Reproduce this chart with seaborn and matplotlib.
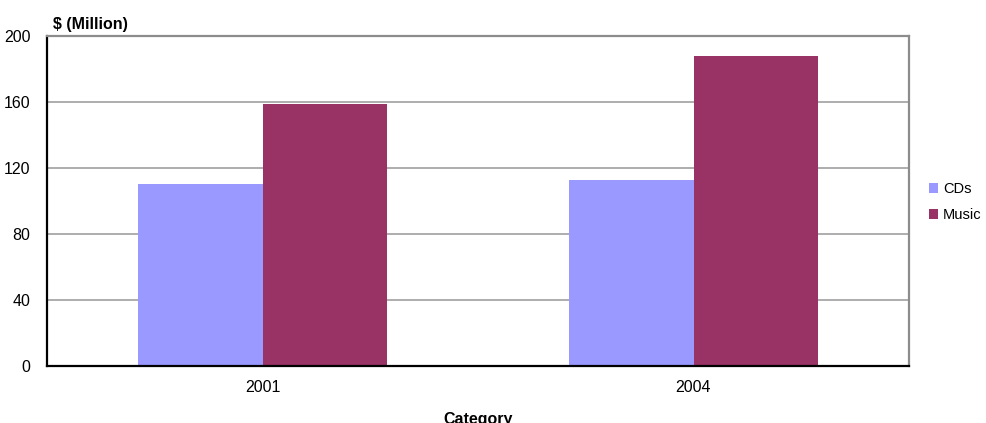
import matplotlib
matplotlib.use("Agg")
import matplotlib.pyplot as plt
import seaborn as sns
import pandas as pd
from matplotlib.patches import Patch

# Revenue by year, $ millions
years = ["2001", "2004"]
series = ["CDs", "Music"]
cds = [110, 113]
music = [159, 188]
colors = {"CDs": "#9999FF", "Music": "#993366"}

df = pd.DataFrame({
    "Year": years * 2,
    "Series": ["CDs"] * len(years) + ["Music"] * len(years),
    "Value": cds + music,
})

sns.set_theme(style="white")
plt.rcParams["font.family"] = ["Liberation Sans", "DejaVu Sans"]
plt.rcParams["text.color"] = "black"
plt.rcParams["axes.labelcolor"] = "black"

fig = plt.figure(figsize=(9.86, 4.23), dpi=100)
ax = fig.add_axes([47 / 986, (423 - 366) / 423, (909 - 47) / 986, (366 - 36) / 423])

sns.barplot(data=df, x="Year", y="Value", hue="Series", order=years,
            hue_order=series, palette=colors, width=0.58, saturation=1,
            edgecolor="none", linewidth=0, legend=False, ax=ax)

ax.set_xlim(-0.5, 1.5)
ax.set_ylim(0, 200)
ax.set_yticks([0, 40, 80, 120, 160, 200])
ax.yaxis.grid(True, color="#a0a0a0", linewidth=1.2)
ax.set_axisbelow(True)
ax.tick_params(axis="both", length=0, labelsize=11.5, colors="black")
ax.tick_params(axis="y", pad=12)
ax.tick_params(axis="x", pad=10)
ax.set_xlabel("Category", fontsize=11.5, fontweight="bold", labelpad=12)
ax.set_ylabel("")

for side in ["left", "bottom"]:
    ax.spines[side].set_color("black")
    ax.spines[side].set_linewidth(1.6)
for side in ["top", "right"]:
    ax.spines[side].set_visible(True)
    ax.spines[side].set_color("#8c8c8c")
    ax.spines[side].set_linewidth(1.6)

fig.text(53 / 986, 1 - 24 / 423, "$ (Million)", fontsize=11.5, fontweight="bold",
         ha="left", va="center")

handles = [Patch(facecolor=colors[s], edgecolor="none", label=s) for s in series]
fig.legend(handles=handles, loc="center left",
           bbox_to_anchor=(929 / 986, 1 - 202 / 423), frameon=False,
           fontsize=10.5, handlelength=0.65, handleheight=0.65,
           handletextpad=0.3, labelspacing=0.8, borderaxespad=0,
           borderpad=0)

fig.savefig("out.png", dpi=100)
